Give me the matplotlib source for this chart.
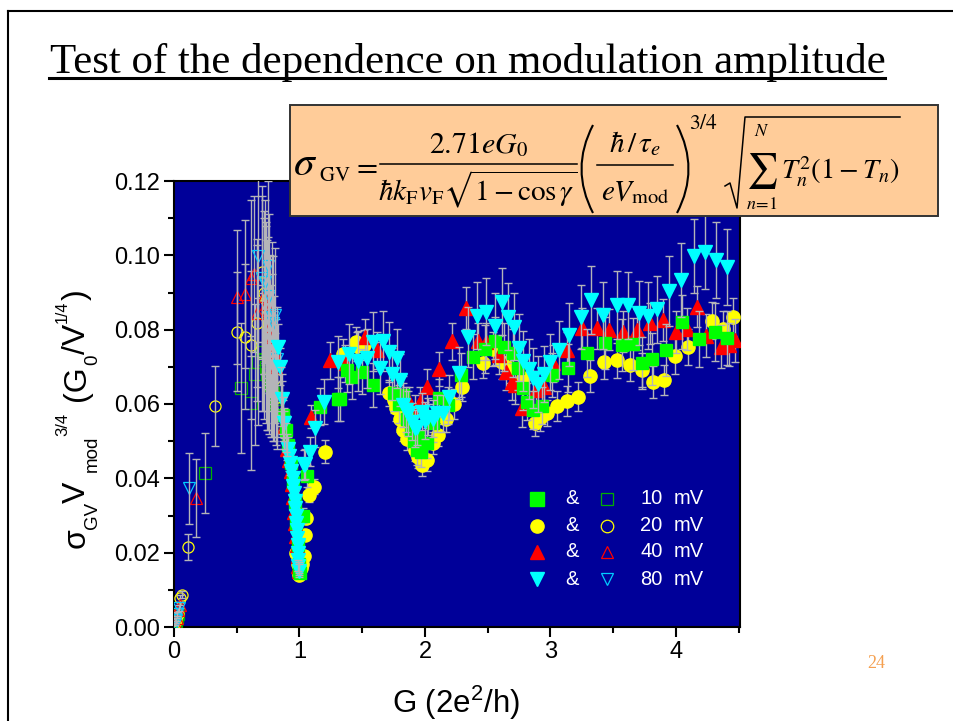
import matplotlib
matplotlib.use('Agg')
from matplotlib import pyplot as plt
from matplotlib.lines import Line2D
from matplotlib.patches import PathPatch, Rectangle
from matplotlib.path import Path

plt.rcParams['font.family'] = ['Liberation Sans', 'DejaVu Sans']
plt.rcParams['mathtext.fontset'] = 'custom'
plt.rcParams['mathtext.rm'] = 'Liberation Sans'
plt.rcParams['mathtext.it'] = 'Liberation Sans:italic'
plt.rcParams['mathtext.bf'] = 'Liberation Sans:bold'

# filled symbols, G / sigma / error
yl_g = [.97,.985,1.0,1.01,1.02,1.035,1.045,1.05,1.075,1.115,1.205,1.345,1.45,1.46,1.51,1.715,1.75,1.77,1.80,1.825,1.855,1.92,1.945,1.975,2.015,2.065,2.105,2.165,2.23,2.295,2.46,2.54,2.615,2.68,2.78,2.875,2.915,2.97,3.05,3.13,3.22,3.315,3.425,3.53,3.635,3.73,3.815,3.905,3.99,4.095,4.285,4.375,4.455]
yl_s = [.020,.017,.014,.016,.017,.019,.0248,.0294,.0355,.0377,.0472,.0735,.0768,.0755,.0759,.0629,.0611,.0589,.056,.053,.0506,.0476,.0458,.0436,.045,.0495,.0517,.056,.060,.0647,.0711,.0748,.0713,.0697,.067,.055,.0562,.0575,.0595,.0609,.062,.0676,.0713,.0718,.0705,.0691,.066,.0664,.0729,.0754,.0824,.0801,.0834]
yl_e = [.001,.001,.001,.001,.001,.001,.0012,.0015,.0018,.002,.003,.004,.004,.004,.004,.0035,.0035,.0035,.0035,.003,.003,.003,.003,.003,.003,.003,.003,.0035,.004,.004,.004,.0045,.0045,.004,.004,.0035,.0035,.0035,.004,.004,.004,.0043,.0045,.0047,.0044,.0045,.0043,.0041,.0048,.0048,.005,.005,.005]

rd_g = [.88,.90,.915,.93,.94,.95,.96,.968,.975,.98,.985,.99,.995,1.09,1.24,1.365,1.52,1.615,1.87,1.92,1.96,2.015,2.11,2.215,2.33,2.425,2.49,2.59,2.645,2.695,2.715,2.77,2.885,2.95,3.02,3.13,3.255,3.37,3.47,3.58,3.69,3.79,3.895,4.0,4.09,4.165,4.24,4.36,4.42,4.47]
rd_s = [.054,.048,.045,.042,.0385,.035,.031,.028,.0245,.022,.019,.0165,.015,.0566,.0718,.071,.078,.0745,.0605,.0584,.0606,.0647,.0694,.0769,.0858,.0769,.0768,.0732,.0687,.066,.0651,.0589,.0638,.0647,.071,.0745,.0804,.0804,.08,.0794,.08,.0817,.0826,.0793,.0802,.0862,.0784,.0754,.0759,.0772]
rd_e = [.003,.003,.003,.002,.002,.002,.002,.001,.001,.001,.001,.001,.001,.003,.005,.005,.005,.005,.004,.004,.004,.0047,.0046,.005,.0056,.005,.005,.005,.005,.005,.005,.005,.005,.005,.005,.005,.0054,.0055,.0055,.0055,.0055,.0055,.0056,.0056,.0056,.0056,.0058,.0058,.0058,.0058]

gn_g = [.87,.89,.91,.93,.95,.965,.975,.985,.995,1.0,1.005,1.03,1.058,1.165,1.31,1.32,1.38,1.415,1.495,1.585,1.75,1.79,1.825,1.86,1.89,1.91,1.935,1.945,1.97,2.015,2.065,2.11,2.185,2.285,2.385,2.48,2.56,2.63,2.70,2.74,2.78,2.815,2.86,2.93,3.01,3.14,3.29,3.435,3.57,3.655,3.73,3.81,3.92,4.05,4.18,4.31,4.41]
gn_s = [.057,.053,.049,.044,.039,.033,.028,.022,.017,.015,.0145,.03,.0406,.0593,.0613,.0613,.0691,.0673,.0687,.0651,.063,.060,.0624,.056,.053,.050,.0476,.0512,.047,.0495,.0549,.0616,.0597,.0678,.0727,.0748,.077,.0754,.0737,.0698,.0643,.0606,.0584,.0595,.0678,.0697,.0737,.0764,.0759,.0761,.071,.0722,.0745,.082,.0775,.0795,.0777]
gn_e = [.004,.004,.003,.003,.002,.002,.002,.002,.001,.001,.001,.002,.003,.005,.006,.006,.006,.006,.006,.006,.005,.005,.005,.004,.004,.004,.004,.004,.004,.004,.005,.005,.005,.006,.006,.0065,.0065,.0065,.0065,.006,.006,.005,.005,.005,.006,.0065,.0065,.007,.007,.007,.007,.007,.007,.0072,.0075,.0078,.0073]

cy_g = [.826,.845,.86,.875,.905,.915,.925,.935,.945,.952,.958,.964,.968,.972,.976,.98,.982,.985,.987,.989,.992,.995,1.035,1.04,1.08,1.125,1.195,1.31,1.397,1.468,1.54,1.587,1.64,1.667,1.71,1.735,1.78,1.80,1.825,1.85,1.867,1.895,1.92,1.94,1.975,2.0,2.026,2.06,2.095,2.145,2.19,2.27,2.345,2.415,2.486,2.56,2.615,2.665,2.71,2.75,2.78,2.83,2.86,2.90,2.95,3.0,3.07,3.145,3.24,3.325,3.42,3.53,3.62,3.705,3.78,3.85,3.945,4.04,4.145,4.23,4.32,4.41]
cy_s = [.0754,.070,.0613,.0549,.048,.046,.044,.042,.040,.038,.036,.034,.032,.030,.028,.026,.024,.022,.020,.018,.0165,.015,.0435,.0438,.0472,.0535,.0606,.0714,.0735,.0716,.0723,.0768,.0698,.077,.074,.068,.0723,.0665,.0597,.0585,.0575,.0552,.0535,.0539,.0579,.0555,.0566,.056,.0575,.0575,.0618,.0683,.078,.0837,.0848,.081,.0875,.0835,.0808,.0751,.0716,.0694,.067,.0654,.068,.0713,.0745,.0786,.0834,.088,.0839,.0866,.0866,.0846,.0838,.0855,.0905,.0933,.0998,.101,.0987,.0968]
cy_e = [.006,.005,.005,.004,.003,.003,.003,.003,.002,.002,.002,.002,.002,.002,.0015,.0015,.0015,.0015,.0015,.0015,.0015,.0015,.004,.004,.004,.005,.006,.007,.008,.008,.008,.0079,.007,.008,.008,.007,.008,.007,.006,.006,.006,.005,.005,.005,.005,.005,.005,.005,.005,.005,.006,.007,.008,.009,.009,.009,.009,.009,.009,.009,.008,.008,.008,.0075,.0075,.0075,.0079,.0085,.0085,.0092,.009,.0091,.009,.0086,.0089,.009,.0094,.0099,.010,.010,.0103,.0102]

# open symbols, mostly the low G side of the first peak
go_g = [.005,.012,.02,.03,.247,.535,.615,.645,.67,.70,.71,.72,.73,.74,.75,.76,.77,.78,.79,.80,.81,.82]
go_s = [.0005,.0015,.0025,.0035,.0414,.0643,.0602,.068,.0714,.0751,.074,.072,.070,.068,.067,.066,.065,.064,.063,.062,.060,.058]
go_e = [.0003,.0004,.0005,.0006,.0108,.0175,.018,.019,.017,.017,.016,.016,.015,.015,.014,.014,.014,.013,.013,.012,.011,.010]

yo_g = [.008,.018,.028,.045,.06,.11,.324,.50,.567,.615,.66,.70,.715,.73,.745,.76,.775,.79,.805,.82]
yo_s = [.001,.002,.0035,.0077,.0087,.0216,.0595,.0794,.0781,.0759,.0819,.0956,.090,.088,.084,.081,.076,.072,.067,.062]
yo_e = [.0003,.0004,.0006,.001,.001,.0035,.0108,.016,.0195,.02,.021,.023,.022,.021,.020,.018,.016,.014,.012,.011]

ro_g = [.01,.022,.035,.048,.175,.50,.567,.61,.64,.66,.72,.735,.75,.765,.78,.795,.81]
ro_s = [.001,.0025,.0045,.006,.0348,.0888,.0896,.0939,.095,.0845,.089,.087,.085,.081,.078,.074,.07]
ro_e = [.0003,.0004,.0006,.0008,.0105,.018,.02,.021,.021,.02,.021,.021,.02,.019,.017,.015,.013]

co_g = [.006,.016,.026,.038,.12,.67,.70,.727,.75,.76,.778,.79,.805,.82]
co_s = [.0008,.002,.0035,.005,.0373,.0998,.094,.0929,.0971,.089,.0835,.0818,.084,.072]
co_e = [.0003,.0004,.0006,.0008,.0095,.023,.022,.022,.023,.022,.02,.018,.018,.014]

# error bars that stay visible over the cyan band
tip_g = [.85,.86,.87,.88,.89,.90,.99,.995,1.0]
tip_s = [.062,.060,.056,.053,.051,.049,.0165,.016,.0155]
tip_e = [.008,.008,.006,.005,.004,.003,.0015,.0015,.0015]

legend_labels = ['10', '20', '40', '80']
legend_rows = [.287, .227, .169, .1076]

GRAY = '#b4b4b8'
W, H = 954, 721


def px(x, y):
    return x / W, 1 - y / H


def draw_bars(ax, g, s, e, z):
    ax.errorbar(g, s, yerr=e, fmt='none', ecolor=GRAY, elinewidth=1.0, capsize=3.0,
                capthick=1.0, zorder=z)


def draw_filled(ax, g, s, e, color, marker, z, ms=9.5):
    draw_bars(ax, g, s, e, z)
    ax.plot(g, s, ls='none', marker=marker, ms=ms, mfc=color, mec=color, zorder=z + 0.5)


def draw_open(ax, g, s, e, color, marker, z):
    ax.plot(g, s, ls='none', marker=marker, ms=8, mfc='none', mec=color, mew=0.9, zorder=z)
    draw_bars(ax, g, s, e, z + 0.5)


def ftext(x, y, s, size, **kw):
    # formula text, placed by pixel with its baseline at y
    return fig.text(*px(x, y), s, fontsize=size, math_fontfamily='stix', ha=kw.pop('ha', 'left'),
                    va='baseline', zorder=31, **kw)


def rot(y, x, s, size):
    # rotated piece of the y label, x is the baseline
    fig.text(*px(x, y), s, fontsize=size, rotation=90, rotation_mode='anchor', ha='left', va='baseline')


def hline(x0, x1, y, lw=1.1):
    fig.add_artist(Line2D([x0 / W, x1 / W], [1 - y / H, 1 - y / H], color='black', lw=lw, zorder=31))


def paren(x_tip, x_mid, y0, y1):
    verts = [px(x_tip, y0), px(x_mid, (y0 + y1) / 2), px(x_tip, y1)]
    fig.add_artist(PathPatch(Path(verts, [Path.MOVETO, Path.CURVE3, Path.CURVE3]), fc='none', ec='black',
                             lw=1.5, zorder=31, transform=fig.transFigure))


fig = plt.figure(figsize=(W / 100, H / 100), dpi=100, facecolor='white')
ax = fig.add_axes([174 / W, 1 - 627 / H, 566 / W, 446 / H], facecolor='#000099')
ax.set_xlim(0, 4.51)
ax.set_ylim(0, 0.12)

draw_filled(ax, yl_g, yl_s, yl_e, '#ffff00', 'o', 3, ms=9.5)
draw_filled(ax, rd_g, rd_s, rd_e, '#ff0000', '^', 4, ms=10)
draw_filled(ax, gn_g, gn_s, gn_e, '#00ff00', 's', 5, ms=9)
draw_open(ax, go_g, go_s, go_e, '#00b000', 's', 6)
draw_open(ax, yo_g, yo_s, yo_e, '#ffff00', 'o', 7)
draw_open(ax, ro_g, ro_s, ro_e, '#ff0000', '^', 8)
draw_open(ax, co_g, co_s, co_e, '#00ccff', 'v', 9)
draw_filled(ax, cy_g, cy_s, cy_e, '#00ffff', 'v', 10, ms=10)
draw_bars(ax, tip_g, tip_s, tip_e, 11)

ax.set_xticks([0, 1, 2, 3, 4])
ax.set_xticks([.5, 1.5, 2.5, 3.5, 4.5], minor=True)
ax.set_yticks([0, .02, .04, .06, .08, .10, .12])
ax.set_yticks([.01, .03, .05, .07, .09, .11], minor=True)
ax.set_yticklabels(['0.00', '0.02', '0.04', '0.06', '0.08', '0.10', '0.12'])
ax.tick_params(which='major', length=7, width=1.5, labelsize=17, pad=3)
ax.tick_params(which='minor', length=4, width=1.5)
for sp in ax.spines.values():
    sp.set_linewidth(1.5)

# legend drawn by hand inside the plot
for i, lab in enumerate(legend_labels):
    y = legend_rows[i]
    mk = ['s', 'o', '^', 'v'][i]
    col = ['#00ff00', '#ffff00', '#ff0000', '#00ffff'][i]
    col2 = ['#00b000', '#ffff00', '#ff0000', '#00ccff'][i]
    ax.plot(.641, y, transform=ax.transAxes, marker=mk, ms=9.5, mfc=col, mec=col, zorder=20)
    ax.plot(.7645, y, transform=ax.transAxes, marker=mk, ms=9, mfc='none', mec=col2, mew=0.9, zorder=20)
    ax.text(.703, y, '&', transform=ax.transAxes, color='white', fontsize=14.5, ha='center', va='center', zorder=20)
    ax.text(.824, y, lab, transform=ax.transAxes, color='white', fontsize=14.5, ha='left', va='center', zorder=20)
    ax.text(.882, y, 'mV', transform=ax.transAxes, color='white', fontsize=14.5, ha='left', va='center', zorder=20)

# axis labels
fig.text(*px(456, 703), r'G (2e$^2$/h)', fontsize=22.5, ha='center', va='center')
rot(548, 85, 'σ', 23)
rot(529, 97, 'GV', 13.5)
rot(503, 85, 'V', 23)
rot(472, 97, 'mod', 13.5)
rot(436, 67, '3/4', 12)
rot(401, 85, '(G', 23)
rot(365, 97, '0', 13.5)
rot(354, 85, '/V', 23)
rot(323, 67, '1/4', 11.5)
rot(300, 85, ')', 23)

# title
fig.text(*px(50, 72.5), 'Test of the dependence on modulation amplitude',
         family='Liberation Serif', fontsize=30.9, ha='left', va='baseline')
fig.add_artist(Line2D([49 / W, 885 / W], [1 - 78 / H, 1 - 78 / H], color='black', lw=2.2))

# formula box, built up in pieces
fig.add_artist(Rectangle(px(290, 216), 648 / W, 111 / H, facecolor='#ffcc99', edgecolor='#333333',
                         lw=1.4, zorder=30, transform=fig.transFigure))
ftext(293, 175, r'$\sigma$', 30)
ftext(319, 181, r'$\mathrm{GV}$', 15)
ftext(352, 175, r'$=$', 22)
hline(380, 577, 164)
ftext(478, 153, r'$2.71eG_0$', 21.5, ha='center')
ftext(478, 200, r'$\hbar k_{\mathrm{F}}v_{\mathrm{F}}\sqrt{1-\cos\gamma}$', 21, ha='center')
paren(593, 570, 125, 213)
hline(597, 673, 165)
ftext(635, 152, r'$\hbar\,/\,\tau_e$', 21, ha='center')
ftext(635, 200, r'$eV_{\mathrm{mod}}$', 21, ha='center')
paren(677, 700, 125, 213)
ftext(689, 129, r'$3/4$', 15.5)
fig.add_artist(Line2D([725 / W, 730 / W, 737 / W, 745 / W, 900 / W],
                      [1 - 186 / H, 1 - 183 / H, 1 - 208 / H, 1 - 117 / H, 1 - 117 / H],
                      color='black', lw=1.1, zorder=31))
ftext(762, 180, r'$\sum$', 25, ha='center')
ftext(762, 136, r'$N$', 13, ha='center')
ftext(762, 209, r'$n\!=\!1$', 13, ha='center')
ftext(781, 180, r'$T_n^2(1-T_n)$', 20.5)

# slide number and frame
fig.text(*px(876, 664), '24', family='Liberation Serif', fontsize=13, color='#f5a050', ha='center', va='center')
fig.add_artist(Line2D([8 / W, 8 / W], [0, 1 - 11 / H], color='black', lw=1.5))
fig.add_artist(Line2D([8 / W, 1], [1 - 11 / H, 1 - 11 / H], color='black', lw=1.5))

fig.savefig('out.png', dpi=100)
